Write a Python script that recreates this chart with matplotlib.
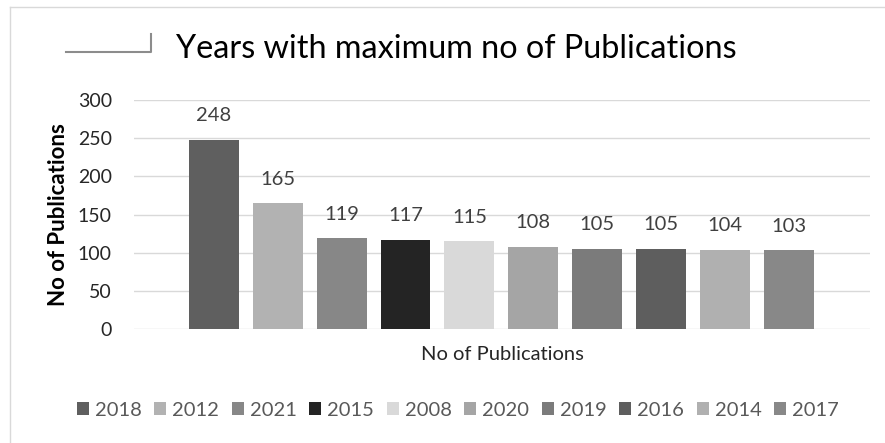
import matplotlib
matplotlib.use("Agg")
import matplotlib.pyplot as plt
from matplotlib.patches import Patch
from matplotlib.lines import Line2D

years = ["2018", "2012", "2021", "2015", "2008", "2020", "2019", "2016", "2014", "2017"]
values = [248, 165, 119, 117, 115, 108, 105, 105, 104, 103]
colors = ["#5f5f5f", "#b2b2b2", "#878787", "#242424", "#d9d9d9",
          "#a5a5a5", "#7b7b7b", "#5e5e5e", "#b0b0b0", "#888888"]
yticks = [0, 50, 100, 150, 200, 250, 300]

plt.rcParams['font.family'] = ['Lato', 'DejaVu Sans']
W, H = 885, 443
fig = plt.figure(figsize=(W / 100, H / 100), dpi=100)
ax = fig.add_axes([134 / W, 1 - 329 / H, (870 - 134) / W, (329 - 100) / H])

x = list(range(len(values)))
bars = ax.bar(x, values, width=50 / 64, color=colors, zorder=3)
for xi, v in zip(x, values):
    ax.annotate(str(v), (xi, v), xytext=(0, 24), textcoords="offset pixels",
                ha="center", va="center", fontsize=14.5, color="#404040")

ax.set_xlim(-1.25, 10.27)
ax.set_ylim(0, 300)
ax.set_yticks(yticks)
ax.set_yticklabels([str(t) for t in yticks], fontsize=14, color="#262626")
ax.tick_params(axis="y", length=0, pad=16)
ax.set_xticks([])
ax.grid(axis="y", color="#d9d9d9", linewidth=1, zorder=0)
for s in ax.spines.values():
    s.set_visible(False)

ax.set_ylabel("No of Publications", fontsize=16, fontweight="bold", color="black", labelpad=6)
ax.set_xlabel("No of Publications", fontsize=14.5, color="#262626", labelpad=12)

fig.text(176 / W, 1 - 49 / H, "Years with maximum no of Publications", fontsize=23.3,
         ha="left", va="center", color="black")

# frame lines
fig.add_artist(Line2D([10 / W, 10 / W], [0, 1 - 7 / H], color="#d9d9d9", lw=1))
fig.add_artist(Line2D([10 / W, 1], [1 - 7 / H, 1 - 7 / H], color="#d9d9d9", lw=1))
# small artifact line near title
fig.add_artist(Line2D([66 / W, 151 / W, 151 / W], [1 - 52 / H, 1 - 52 / H, 1 - 34 / H],
                      color="#8c8c8c", lw=1.5))

handles = [Patch(facecolor=c, edgecolor="none") for c in colors]
fig.legend(handles, years, loc="center", bbox_to_anchor=(458 / W, 1 - 410 / H), ncol=10,
           frameon=False, fontsize=14.5, handlelength=0.6, handleheight=0.6,
           handletextpad=0.3, columnspacing=0.62, labelcolor="#595959")

fig.savefig("out.png", dpi=100)
